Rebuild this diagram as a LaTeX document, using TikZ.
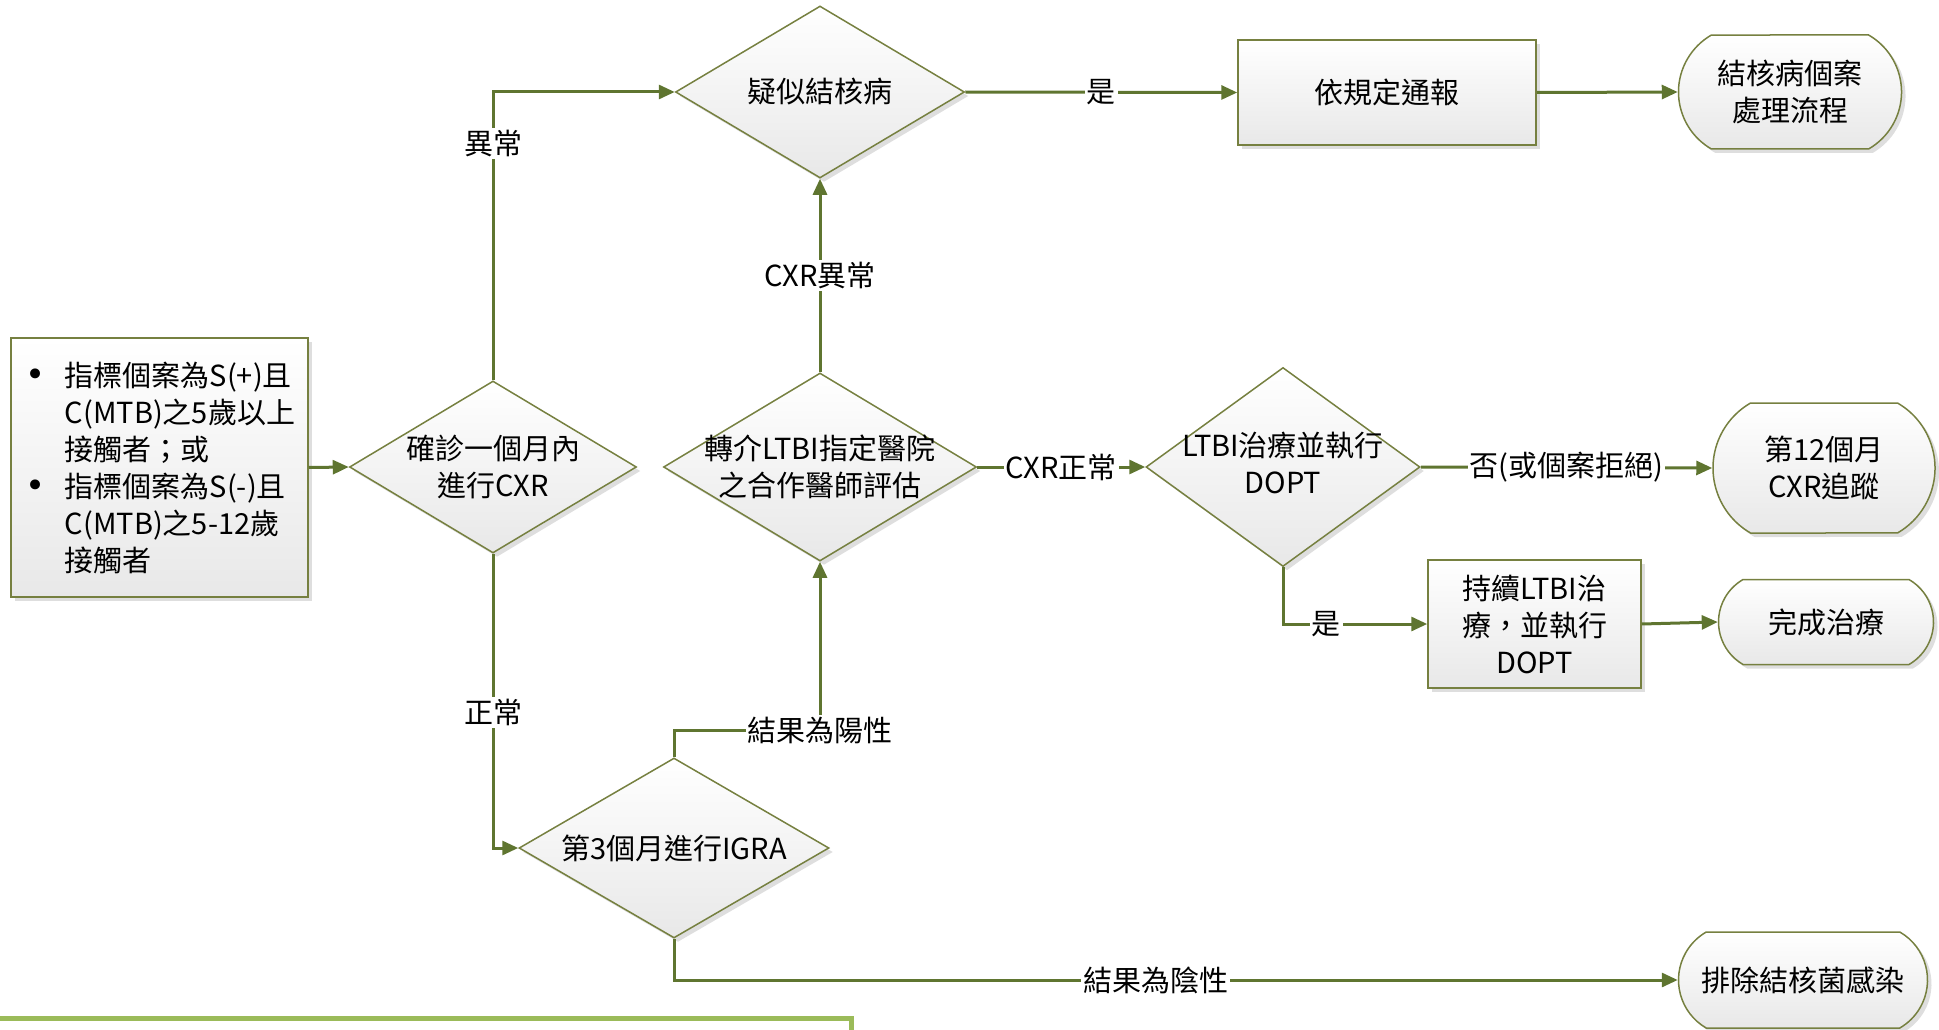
\documentclass[tikz,border=0pt]{standalone}
\usepackage{fontspec}
\setmainfont{Noto Sans CJK TC}
\newfontfamily\dejavu{DejaVu Sans}
\usetikzlibrary{shapes.geometric,shapes.misc,shadows,arrows.meta}
\definecolor{arrowc}{RGB}{95,117,48}
\definecolor{borderc}{RGB}{118,128,64}
\definecolor{greenl}{RGB}{155,187,89}
\newcommand{\bigfont}{\fontsize{29}{37}\selectfont}
\newcommand{\mybul}{\makebox[41pt][l]{\hspace*{2pt}{\dejavu\fontsize{34}{37}\selectfont •}}}
\tikzset{
  base/.style={draw=borderc, line width=1.5pt, top color=white, bottom color=black!9,
    drop shadow={shadow xshift=4pt, shadow yshift=-4pt, fill=black!13, opacity=1},
    inner sep=0pt, align=center, font=\bigfont},
  dia/.style={base, diamond},
  box/.style={base, rectangle},
  term/.style={base, rounded rectangle, rounded rectangle arc length=120},
  txt/.style={align=center, font=\bigfont, inner sep=0pt},
  arr/.style={draw=arrowc, line width=3pt, -{Triangle[length=16pt,width=14pt]}},
  lbl/.style={fill=white, inner sep=2pt, font=\bigfont, text=black},
}
\begin{document}
\begin{tikzpicture}[x=1pt,y=-1pt]
\useasboundingbox (0,0) rectangle (1939,1030);

% start box
\node[box, minimum width=297pt, minimum height=259pt, align=left] (start) at (159.5,467.5)
 {\mybul 指標個案為S(+)且\\
  \hspace*{41pt}C(MTB)之5歲以上\\
  \hspace*{41pt}接觸者；或\\
  \mybul 指標個案為S(-)且\\
  \hspace*{41pt}C(MTB)之5-12歲\\
  \hspace*{41pt}接觸者};

% diamonds
\node[dia, minimum width=287pt, minimum height=172pt] (d1) at (493,467) {};
\node[txt] (d1t) at (d1) {確診一個月內\\進行CXR};

\node[dia, minimum width=289pt, minimum height=172pt] (dsus) at (820,92) {};
\node[txt] (dsust) at (dsus) {疑似結核病};

\node[dia, minimum width=313pt, minimum height=188pt] (d2) at (820,467) {};
\node[txt] (d2t) at (d2) {轉介LTBI指定醫院\\之合作醫師評估};

\node[dia, minimum width=274pt, minimum height=199pt] (d3) at (1283,467) {};
\node[txt] (d3t) at (1283,463) {LTBI治療並執行\\DOPT};

\node[dia, minimum width=310pt, minimum height=180pt] (igra) at (674,848) {};
\node[txt] (igrat) at (igra) {第3個月進行IGRA};

% rectangles
\node[box, minimum width=298pt, minimum height=105pt] (notify) at (1387,92.5) {依規定通報};
\node[box, minimum width=213pt, minimum height=128pt] (cont) at (1534.5,624) {持續LTBI治\\療，並執行\\DOPT};

% terminals
\node[term, minimum width=223pt, minimum height=114pt] (tbproc) at (1790,92) {結核病個案\\處理流程};
\node[term, minimum width=222pt, minimum height=130pt] (m12) at (1824,468) {第12個月\\CXR追蹤};
\node[term, minimum width=215pt, minimum height=85pt] (done) at (1826,622) {完成治療};
\node[term, minimum width=249pt, minimum height=96pt] (excl) at (1803,980) {排除結核菌感染};

% connectors
\draw[arr] (start.east) -- (d1.west);
\draw[arr] (d1.north) |- node[lbl, pos=0.41]{異常} (dsus.west);
\draw[arr] (d1.south) |- node[lbl, pos=0.27]{正常} (igra.west);
\draw[arr] (d2.north) -- node[lbl]{CXR異常} (dsus.south);
\draw[arr] (dsus.east) -- node[lbl]{是} (notify.west);
\draw[arr] (notify.east) -- (tbproc.west);
\draw[arr] (d2.east) -- node[lbl]{CXR正常} (d3.west);
\draw[arr] (d3.east) -- node[lbl]{否(或個案拒絕)} (m12.west);
\draw[arr] (d3.south) |- node[lbl, pos=0.65]{是} (cont.west);
\draw[arr] (cont.east) -- (done.west);
\draw[arr] (igra.north) -- ++(0,-27) -| node[lbl, pos=0.5]{結果為陽性} (d2.south);
\draw[arr] (igra.south) |- node[lbl, pos=0.74]{結果為陰性} (excl.west);

% bottom green rule
\draw[greenl, line width=5pt] (0,1018) -- (851,1018) -- (851,1035);
\end{tikzpicture}
\end{document}
